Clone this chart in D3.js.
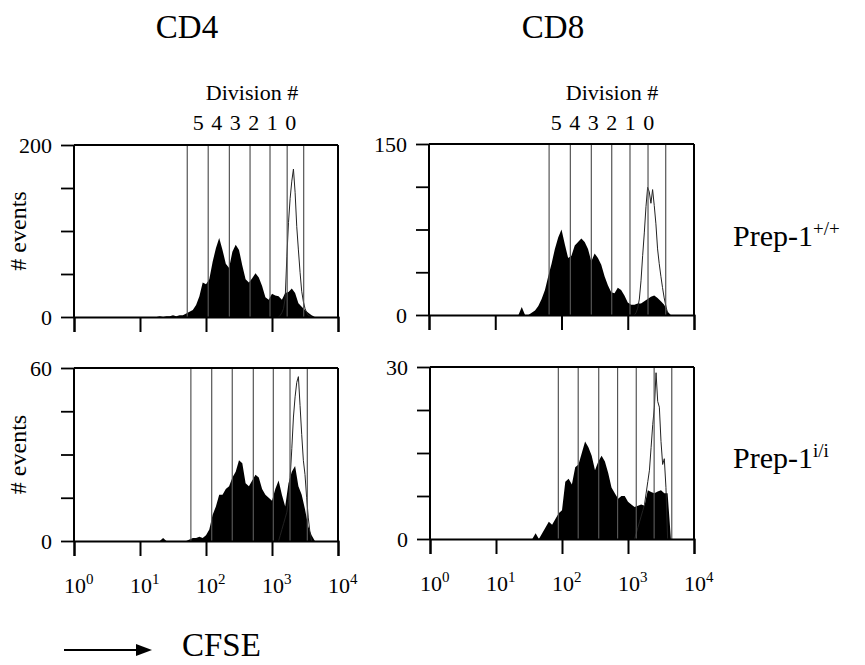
<!DOCTYPE html>
<html>
<head>
<meta charset="utf-8">
<script src="https://cdn.jsdelivr.net/npm/d3@7"></script>
<style>
  body { margin: 0; background: #fff; }
  svg text { font-family: "Liberation Serif", "Times New Roman", serif; fill: #000; }
</style>
</head>
<body>
<script>
// histogram bins, log10 units
var binStart = 1.2, binStep = 0.05;     // filled (stimulated) histograms
var peakStart = 3.1, peakStep = 0.025;  // open (undivided control) histograms

var divisionLabels = ["5", "4", "3", "2", "1", "0"];
var xTickExps = [0, 1, 2, 3, 4];

// CD4 Prep-1 +/+
var cd4WtFilled = [0, 0, 1, 0, 1, 1, 2, 1, 2, 2, 4, 6, 8, 14, 24, 40, 38, 44, 64, 80,
  92, 78, 62, 57, 76, 84, 78, 60, 44, 40, 45, 51, 46, 36, 23, 20, 27, 25, 24, 20,
  28, 29, 33, 28, 16, 12, 8, 5, 2, 0];
var cd4WtOpen = [0, 2, 5, 10, 22, 70, 110, 138, 158, 172, 145, 105, 78, 52, 30, 18, 10, 5, 2, 1, 0];
var cd4WtGates = [52, 108, 226, 465, 933, 1698, 3020];

// CD8 Prep-1 +/+
var cd8WtFilled = [0, 0, 0, 0, 7, 0, 0, 2, 4, 8, 14, 22, 34, 45, 58, 68, 75, 62, 50, 52,
  61, 64, 67, 64, 58, 47, 54, 50, 44, 34, 26, 20, 19, 24, 22, 17, 11, 9, 9, 10,
  10, 12, 14, 16, 17, 15, 12, 9, 3, 0];
var cd8WtOpen = [0, 2, 6, 14, 30, 52, 72, 95, 112, 108, 98, 110, 96, 80, 58, 45, 34, 24, 15, 8, 2];
var cd8WtGates = [65, 136, 282, 573, 1081, 2023, 3741];

// CD4 Prep-1 i/i
var cd4IiFilled = [0, 0, 0, 1, 0, 0, 0, 0, 0, 0, 0, 0.5, 1, 1, 1.5, 1, 2, 4, 9, 12,
  16, 16, 18, 19, 22, 24, 28, 27, 20, 19, 21, 23, 22, 18, 16, 15, 14, 18, 21, 16,
  12, 20, 24, 26, 19, 16, 11, 5, 2, 0];
var cd4IiOpen = [0, 2, 4, 6, 8, 10, 14, 22, 32, 43, 50, 55, 57, 47, 37, 28, 23, 15, 8, 3, 0];
var cd4IiGates = [59, 122, 250, 521, 1047, 1875, 3428];

// CD8 Prep-1 i/i
var cd8IiFilled = [0, 0, 0, 0, 0, 0, 0, 0, 1, 0, 1, 2, 3, 2.5, 3.5, 4.5, 5, 10, 10.5, 9.5,
  12.5, 13, 15, 17, 16, 14.5, 12, 13.5, 14.5, 13.5, 11.5, 9, 8, 7, 7.5, 7.5, 6.5, 6, 5.6, 5.8,
  6, 5.8, 8.5, 8.2, 8, 8.3, 8.5, 8, 8, 0];
var cd8IiOpen = [0, 1, 2, 3, 4, 5, 6, 8, 10, 12, 16, 20, 23, 29, 24, 23, 17, 13, 14, 9, 0];
var cd8IiGates = [88, 176, 360, 695, 1334, 2489, 4603];

var panels = [
  {filled: cd4WtFilled, open: cd4WtOpen, gates: cd4WtGates, yMax: 200, left: 74, top: 145, w: 264, h: 172, xLabels: false, yTitle: true},
  {filled: cd8WtFilled, open: cd8WtOpen, gates: cd8WtGates, yMax: 150, left: 429, top: 144, w: 265, h: 171, xLabels: false, yTitle: false},
  {filled: cd4IiFilled, open: cd4IiOpen, gates: cd4IiGates, yMax: 60, left: 74, top: 368, w: 264, h: 173, xLabels: true, yTitle: true},
  {filled: cd8IiFilled, open: cd8IiOpen, gates: cd8IiGates, yMax: 30, left: 430, top: 367, w: 264, h: 172, xLabels: true, yTitle: false}
];

var svg = d3.select("body").append("svg")
  .attr("width", 865)
  .attr("height", 665);

panels.forEach(function(p) {
  var g = svg.append("g").attr("transform", "translate(" + p.left + "," + p.top + ")");

  var x = d3.scaleLog().domain([1, 1e4]).range([0, p.w]);
  var y = d3.scaleLinear().domain([0, p.yMax]).range([p.h, 0]);

  var filledPts = p.filled.map(function(v, i) { return [Math.pow(10, binStart + i * binStep), v]; });
  var openPts = p.open.map(function(v, i) { return [Math.pow(10, peakStart + i * peakStep), v]; });

  // filled histogram
  g.append("path")
    .datum(filledPts)
    .attr("fill", "#000")
    .attr("d", d3.area()
      .x(function(d) { return x(d[0]); })
      .y0(y(0))
      .y1(function(d) { return y(d[1]); }));

  // open histogram
  g.append("path")
    .datum(openPts)
    .attr("fill", "none")
    .attr("stroke", "#222")
    .attr("stroke-width", 1)
    .attr("d", d3.line()
      .x(function(d) { return x(d[0]); })
      .y(function(d) { return y(d[1]); }));

  // division gates
  g.selectAll(".gate")
    .data(p.gates)
    .enter().append("line")
      .attr("class", "gate")
      .attr("x1", function(d) { return x(d); })
      .attr("x2", function(d) { return x(d); })
      .attr("y1", y(0))
      .attr("y2", y(p.yMax))
      .attr("stroke", "#555")
      .attr("stroke-width", 1.2);

  // y axis
  var yAxis = g.append("g")
    .call(d3.axisLeft(y).tickValues(d3.range(5).map(function(i) { return p.yMax * i / 4; }))
      .tickSize(13).tickPadding(9)
      .tickFormat(function(d) { return (d === 0 || d === p.yMax) ? d : ""; }));
  yAxis.select(".domain").remove();
  yAxis.append("line").attr("x1", 0).attr("x2", 0).attr("y1", 0).attr("y2", p.h)
    .attr("stroke", "#000").attr("stroke-width", 2);
  yAxis.selectAll(".tick line").attr("stroke-width", 1.8);
  yAxis.selectAll(".tick text").attr("font-size", 22).attr("dy", "0.35em")
    .attr("font-family", "Liberation Serif, serif");

  // frame top and right
  g.append("line").attr("x1", 0).attr("x2", p.w).attr("y1", 0).attr("y2", 0)
    .attr("stroke", "#000").attr("stroke-width", 2);
  g.append("line").attr("x1", p.w).attr("x2", p.w).attr("y1", 0).attr("y2", p.h)
    .attr("stroke", "#000").attr("stroke-width", 2);

  // x axis
  var xAxis = g.append("g")
    .attr("transform", "translate(0," + p.h + ")")
    .call(d3.axisBottom(x).tickValues(xTickExps.map(function(e) { return Math.pow(10, e); }))
      .tickSize(15).tickFormat(""));
  xAxis.select(".domain").attr("stroke-width", 2);
  xAxis.selectAll(".tick line").attr("stroke-width", 2);

  if (p.xLabels) {
    var lab = g.selectAll(".xlab")
      .data(xTickExps)
      .enter().append("text")
        .attr("class", "xlab")
        .attr("x", function(e) { return x(Math.pow(10, e)) - 10; })
        .attr("y", p.h + 52)
        .attr("font-size", 22);
    lab.append("tspan").text("10");
    lab.append("tspan").attr("dy", -9).attr("font-size", 15).text(function(e) { return e; });
  }

  // y title
  if (p.yTitle) {
    g.append("text")
      .attr("transform", "translate(-48," + (p.h / 2) + ") rotate(-90)")
      .attr("text-anchor", "middle")
      .attr("font-size", 24)
      .text("# events");
  }
});

// column titles
svg.append("text").attr("x", 187).attr("y", 38).attr("text-anchor", "middle")
  .attr("font-size", 33).text("CD4");
svg.append("text").attr("x", 553).attr("y", 38).attr("text-anchor", "middle")
  .attr("font-size", 33).text("CD8");

[{cx: 252, dx: 245}, {cx: 612, dx: 603}].forEach(function(c) {
  svg.append("text").attr("x", c.cx).attr("y", 100).attr("text-anchor", "middle")
    .attr("font-size", 22).text("Division #");
  svg.append("text").attr("x", c.dx).attr("y", 130).attr("text-anchor", "middle")
    .attr("font-size", 22).attr("letter-spacing", 1).text(divisionLabels.join(" "));
});

// row labels
var rowLabels = [{y: 246, sup: "+/+"}, {y: 468, sup: "i/i"}];
rowLabels.forEach(function(r) {
  var t = svg.append("text").attr("x", 733).attr("y", r.y).attr("font-size", 30);
  t.append("tspan").text("Prep-1");
  t.append("tspan").attr("dy", -11).attr("font-size", 19).text(r.sup);
});

// CFSE arrow
svg.append("line").attr("x1", 64).attr("x2", 138).attr("y1", 650).attr("y2", 650)
  .attr("stroke", "#000").attr("stroke-width", 2);
svg.append("path").attr("d", "M136,644 L152,650 L136,656 Z").attr("fill", "#000");
svg.append("text").attr("x", 182).attr("y", 656).attr("font-size", 33).text("CFSE");
</script>
</body>
</html>
